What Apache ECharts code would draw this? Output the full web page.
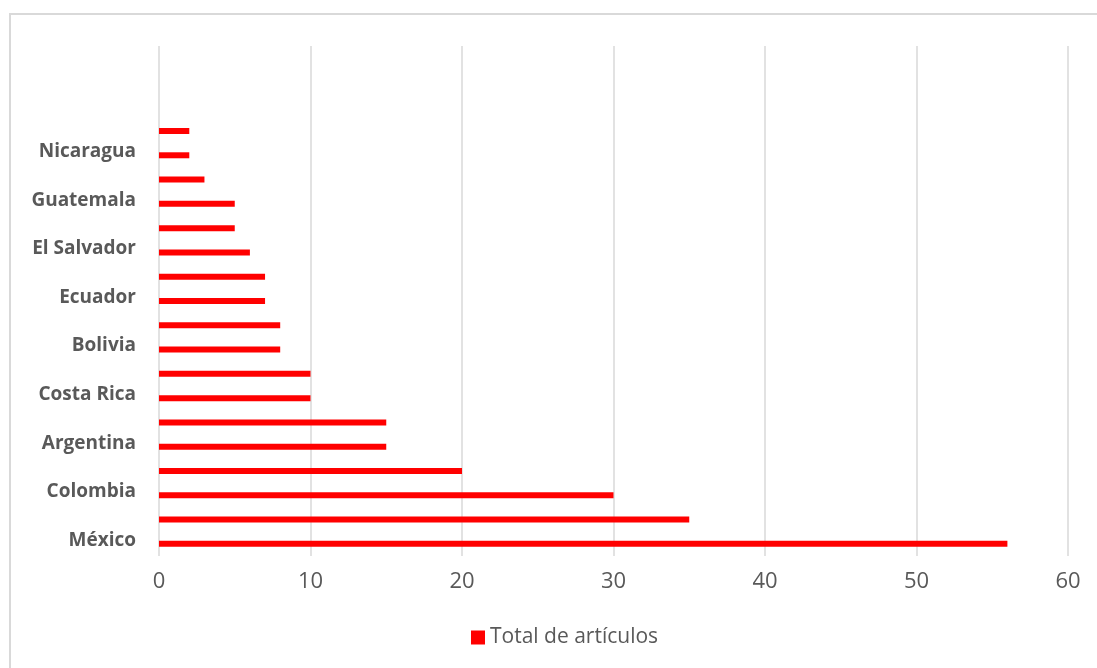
<!DOCTYPE html>
<html>
<head>
<meta charset="utf-8">
<script src="https://cdn.jsdelivr.net/npm/echarts@6/dist/echarts.min.js"></script>
<style>
html,body{margin:0;padding:0;background:#fff;}
#chart{width:1097px;height:668px;}
</style>
</head>
<body>
<div id="chart"></div>
<script>
// Categories bottom to top (every other label is shown, as in the original)
const categories = ["México","Brasil","Colombia","Chile","Argentina","Perú","Costa Rica","Cuba","Bolivia","Venezuela","Ecuador","Uruguay","El Salvador","Honduras","Guatemala","Panamá","Nicaragua","Paraguay","","",""];
const totalArticulos = [56,35,30,20,15,15,10,10,8,8,7,7,6,5,5,3,2,2,null,null,null];
const xTicks = [0,10,20,30,40,50,60];
const seriesName = "Total de artículos";

const FONT = '"Open Sans", Lato, sans-serif';
const chart = echarts.init(document.getElementById('chart'));
chart.setOption({
  animation:false,
  backgroundColor:'#fff',
  graphic:[{type:'rect',shape:{x:10,y:14,width:1100,height:700},style:{fill:'none',stroke:'#d9d9d9',lineWidth:2},silent:true}],
  grid:{left:159,right:29,top:46,bottom:112},
  legend:{
    bottom:15,left:466,itemWidth:14,itemHeight:14,itemGap:5,
    icon:'rect',
    textStyle:{color:'#595959',fontSize:21,fontFamily:FONT},
    data:[seriesName]
  },
  xAxis:{
    type:'value',min:xTicks[0],max:xTicks[xTicks.length-1],interval:10,
    axisLine:{show:false},axisTick:{show:false},
    axisLabel:{color:'#595959',fontSize:22,margin:15,fontFamily:FONT},
    splitLine:{show:true,lineStyle:{color:'#d9d9d9',width:1.5}}
  },
  yAxis:{
    type:'category',data:categories,
    axisLine:{show:false},axisTick:{show:false},
    axisLabel:{
      interval:1,margin:23,
      formatter:function(v){return v ? '{a|'+v+'}' : '';},
      rich:{a:{color:'#595959',fontSize:19,fontWeight:'bold',fontFamily:FONT,padding:[0,0,7,0]}}
    }
  },
  series:[{
    name:seriesName,type:'bar',data:totalArticulos,
    barWidth:6,itemStyle:{color:'#ff0000'}
  }]
});
</script>
</body>
</html>
